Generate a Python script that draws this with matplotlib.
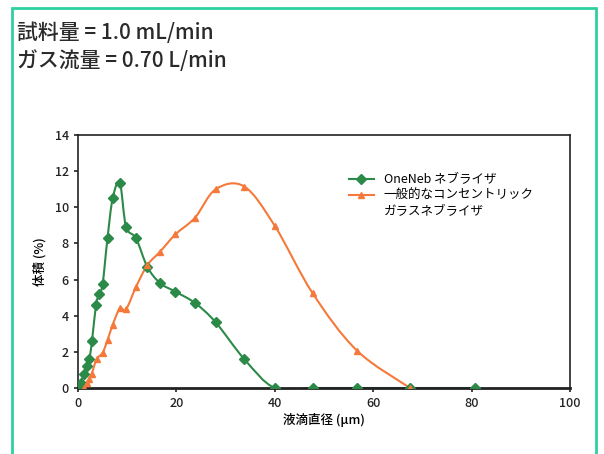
import numpy as np
import matplotlib
matplotlib.use("Agg")
import matplotlib.pyplot as plt
from matplotlib.path import Path
from matplotlib.patches import PathPatch, Rectangle
from matplotlib.lines import Line2D

plt.rcParams['font.family'] = ['Noto Sans CJK JP', 'DejaVu Sans']

# Data
oneneb_x = [0.1, 0.55, 1.2, 1.76, 2.3, 2.85, 3.66, 4.3, 5.0, 6.0, 7.05, 8.5, 9.76,
            11.8, 14.1, 16.7, 19.8, 23.8, 28.0, 33.8, 40.0, 47.7, 56.7, 67.5, 80.7]
oneneb_y = [0.0, 0.26, 0.8, 1.22, 1.6, 2.6, 4.6, 5.2, 5.75, 8.3, 10.5, 11.36, 8.93,
            8.28, 6.7, 5.8, 5.33, 4.7, 3.63, 1.6, 0.0, 0.0, 0.0, 0.0, 0.0]

glass_x = [1.2, 1.76, 2.3, 2.8, 3.8, 5.0, 6.0, 7.05, 8.5, 9.76, 11.8, 14.1, 16.7,
           19.8, 23.8, 28.0, 33.8, 40.0, 47.7, 56.7, 67.5]
glass_y = [0.0, 0.26, 0.5, 0.8, 1.6, 1.95, 2.65, 3.5, 4.4, 4.35, 5.6, 6.8, 7.55,
           8.5, 9.43, 11.0, 11.15, 8.97, 5.24, 2.07, 0.0]

labels = ['OneNeb ネブライザ', '一般的なコンセントリック', 'ガラスネブライザ']
colors = ['#2b8a48', '#f5793a']
header = ['試料量 = 1.0 mL/min', 'ガス流量 = 0.70 L/min']


def smooth_path(xs, ys):
    # Catmull-Rom curve through the points, as bezier segments (like Excel smoothed lines)
    pts = np.column_stack([xs, ys]).astype(float)
    verts = [pts[0]]
    codes = [Path.MOVETO]
    n = len(pts)
    for i in range(n - 1):
        p0 = pts[max(i - 1, 0)]
        p1 = pts[i]
        p2 = pts[i + 1]
        p3 = pts[min(i + 2, n - 1)]
        c1 = p1 + (p2 - p0) / 6.0
        c2 = p2 - (p3 - p1) / 6.0
        verts += [c1, c2, p2]
        codes += [Path.CURVE4] * 3
    return Path(verts, codes)


fig = plt.figure(figsize=(6.04, 4.54), dpi=100)

# teal frame round the whole figure
fig.patches.append(Rectangle((12 / 604, -0.05), 584 / 604, 1.05 - 8 / 454,
                             transform=fig.transFigure, fill=False,
                             edgecolor='#2fd0a0', linewidth=2))

fig.text(17 / 604, 1 - 33 / 454, header[0], fontsize=15, fontweight='medium',
         va='center', color='#2a2a2a')
fig.text(17 / 604, 1 - 61 / 454, header[1], fontsize=15, fontweight='medium',
         va='center', color='#2a2a2a')

ax = fig.add_axes([78 / 604, 1 - 388 / 454, 492 / 604, 253 / 454])

for xs, ys, c, m in [(oneneb_x, oneneb_y, colors[0], 'D'),
                     (glass_x, glass_y, colors[1], '^')]:
    ax.add_patch(PathPatch(smooth_path(xs, ys), facecolor='none', edgecolor=c,
                           linewidth=1.5, transform=ax.transData, zorder=2))
    ax.plot(xs, ys, linestyle='none', marker=m, markersize=5, color=c, zorder=3)

ax.set_xlim(0, 100)
ax.set_ylim(0, 14)
ax.set_xticks(range(0, 101, 20))
ax.set_yticks(range(0, 15, 2))
ax.tick_params(direction='out', length=3, width=1.2, labelsize=9, colors='#222222')
for lab in ax.get_xticklabels() + ax.get_yticklabels():
    lab.set_fontweight('medium')
for s in ax.spines.values():
    s.set_linewidth(1.2)
    s.set_color('#222222')
ax.spines['bottom'].set_linewidth(2)

ax.set_xlabel('液滴直径 (µm)', fontsize=9, fontweight='medium', labelpad=2)
ax.set_ylabel('体積 (%)', fontsize=9, fontweight='medium', labelpad=6)

handles = [Line2D([], [], color=colors[0], marker='D', markersize=5, linewidth=1.5),
           Line2D([], [], color=colors[1], marker='^', markersize=5, linewidth=1.5),
           Line2D([], [], linestyle='none')]
ax.legend(handles, labels, loc='upper left', bbox_to_anchor=(0.54, 0.87),
          frameon=False, fontsize=9, handlelength=2.0, handletextpad=0.8,
          labelspacing=0.25, borderaxespad=0)

fig.savefig('out.png', dpi=100)
